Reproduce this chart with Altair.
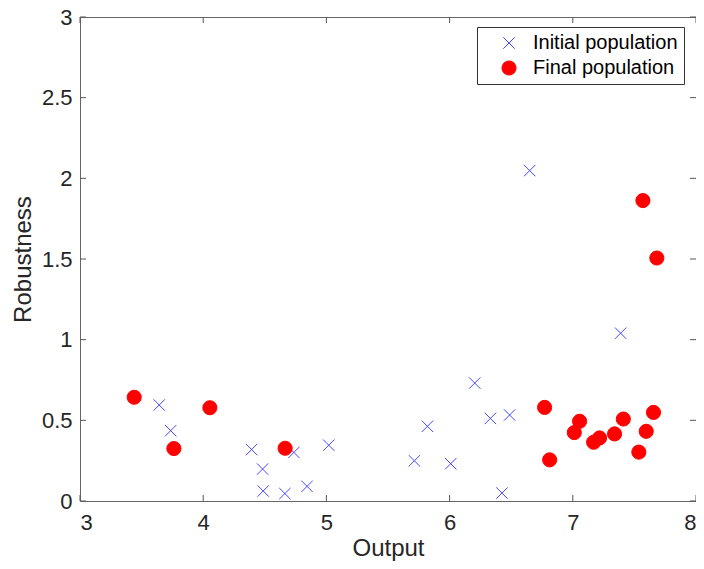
import altair as alt
import pandas as pd

# Initial population (blue crosses)
init_x = [3.643, 3.736, 4.393, 4.482, 4.487, 4.736, 4.663, 4.843, 5.019,
          5.714, 5.820, 6.009, 6.204, 6.331, 6.487, 6.425, 6.650, 7.388]
init_y = [0.595, 0.436, 0.319, 0.198, 0.062, 0.301, 0.046, 0.091, 0.346,
          0.249, 0.463, 0.231, 0.731, 0.512, 0.533, 0.049, 2.048, 1.040]

# Final population (red dots)
final_x = [3.440, 3.762, 4.054, 4.665, 6.771, 6.812, 7.012, 7.055, 7.169,
           7.217, 7.339, 7.410, 7.536, 7.569, 7.596, 7.655, 7.682]
final_y = [0.643, 0.325, 0.578, 0.327, 0.580, 0.255, 0.424, 0.494, 0.364,
           0.391, 0.416, 0.508, 0.303, 1.862, 0.432, 0.549, 1.506]

series_names = ["Initial population", "Final population"]
x_ticks = [3, 4, 5, 6, 7, 8]
y_ticks = [0, 0.5, 1, 1.5, 2, 2.5, 3]

W, H = 616, 484
TICK = 6

df = pd.concat([
    pd.DataFrame({"x": init_x, "y": init_y, "series": series_names[0]}),
    pd.DataFrame({"x": final_x, "y": final_y, "series": series_names[1]}),
], ignore_index=True)

xt = pd.DataFrame({"t": x_ticks})
yt = pd.DataFrame({"t": y_ticks})

xscale = alt.Scale(domain=[3, 8], nice=False, zero=False)
yscale = alt.Scale(domain=[0, 3], nice=False, zero=False)

cross_path = "M-1,-1L1,1M-1,1L1,-1"

points = alt.Chart(df).mark_point(opacity=1, strokeWidth=1).encode(
    x=alt.X("x:Q", scale=xscale,
            axis=alt.Axis(title="Output", values=x_ticks, format="~g")),
    y=alt.Y("y:Q", scale=yscale,
            axis=alt.Axis(title="Robustness", values=y_ticks, format="~g")),
    shape=alt.Shape("series:N", scale=alt.Scale(domain=series_names, range=[cross_path, "circle"]),
                    legend=alt.Legend(title=None)),
    fill=alt.Fill("series:N", scale=alt.Scale(domain=series_names, range=["transparent", "#ff0000"]),
                  legend=alt.Legend(title=None)),
    stroke=alt.Stroke("series:N", scale=alt.Scale(domain=series_names, range=["#4646ff", "#ff0000"]),
                      legend=alt.Legend(title=None)),
    size=alt.Size("series:N", scale=alt.Scale(domain=series_names, range=[130, 200]),
                  legend=alt.Legend(title=None)),
)

tick_color = "#555555"
bx = alt.Chart(xt).mark_rule(color=tick_color, strokeWidth=1).encode(
    x=alt.X("t:Q", scale=xscale), y=alt.value(H), y2=alt.value(H - TICK))
tx = alt.Chart(xt).mark_rule(color=tick_color, strokeWidth=1).encode(
    x=alt.X("t:Q", scale=xscale), y=alt.value(0), y2=alt.value(TICK))
ly = alt.Chart(yt).mark_rule(color=tick_color, strokeWidth=1).encode(
    y=alt.Y("t:Q", scale=yscale), x=alt.value(0), x2=alt.value(TICK))
ry = alt.Chart(yt).mark_rule(color=tick_color, strokeWidth=1).encode(
    y=alt.Y("t:Q", scale=yscale), x=alt.value(W), x2=alt.value(W - TICK))

chart = alt.layer(bx, tx, ly, ry, points).properties(
    width=W, height=H,
    autosize=alt.AutoSizeParams(type="none"),
    padding={"left": 72, "top": 9, "right": 0, "bottom": 60},
).configure_view(
    stroke="#666666", strokeWidth=1
).configure_axis(
    grid=False, domain=False, ticks=False,
    labelFont="Liberation Sans", labelFontSize=22, labelColor="#262626",
    titleFont="Liberation Sans", titleFontSize=24, titleColor="#262626",
    titleFontWeight="normal",
).configure_axisX(
    labelPadding=11, titlePadding=3,
).configure_axisY(
    labelPadding=8, titlePadding=6,
).configure_legend(
    orient="none", legendX=397, legendY=10,
    strokeColor="#333333", fillColor="white", padding=6,
    symbolOffset=16, labelOffset=14, rowPadding=5,
    labelFont="Liberation Sans", labelFontSize=20, labelColor="#000000",
    labelLimit=300, symbolStrokeWidth=1,
)

chart.save("out.html", embed_options={"renderer": "svg", "actions": False})
